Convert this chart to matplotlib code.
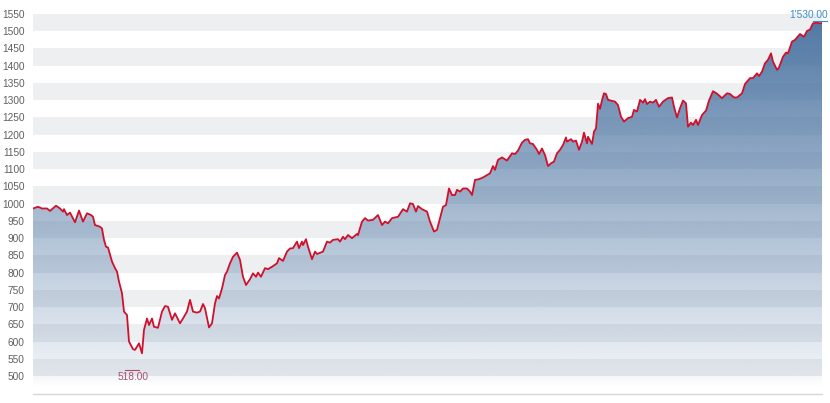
import numpy as np
import matplotlib
matplotlib.use("Agg")
import matplotlib.pyplot as plt
from matplotlib.colors import to_rgb

# ---- data ----
t = [0, 5, 9, 14, 17, 23, 27, 30, 31, 34, 37, 42, 46, 50, 54, 58, 60, 62, 67, 69,
     71, 73, 75, 79, 82, 84, 86, 89, 91, 94, 96, 100, 102, 104, 106, 109, 111, 114, 116, 119,
     121, 125, 129, 132, 135, 139, 142, 147, 150, 154, 157, 160, 164, 167, 170, 172, 176, 179, 182, 184,
     186, 189, 192, 194, 197, 200, 204, 207, 210, 213, 217, 220, 223, 225, 228, 232, 235, 239, 244, 246,
     250, 254, 257, 260, 264, 266, 269, 270, 273, 275, 279, 282, 284, 290, 294, 297, 300, 305, 307, 310,
     312, 315, 319, 324, 325, 329, 332, 335, 340, 345, 349, 352, 355, 359, 365, 370, 374, 377, 380, 383,
     385, 389, 394, 397, 401, 404, 407, 410, 413, 416, 419, 422, 424, 427, 430, 434, 437, 439, 442, 446,
     450, 457, 460, 462, 465, 469, 474, 479, 482, 485, 489, 492, 495, 497, 500, 504, 506, 509, 512, 515,
     518, 521, 524, 527, 530, 533, 534, 538, 540, 543, 546, 549, 551, 554, 555, 559, 561, 563, 565, 567,
     569, 571, 573, 575, 582, 585, 588, 591, 595, 599, 601, 604, 607, 610, 612, 614, 617, 620, 623, 626,
     630, 635, 639, 641, 644, 647, 650, 653, 655, 658, 660, 663, 665, 669, 673, 676, 680, 684, 689, 694,
     697, 701, 704, 709, 712, 717, 720, 724, 726, 729, 732, 735, 738, 740, 744, 746, 750, 753, 755, 759,
     762, 764, 767, 771, 774, 777, 780, 784, 787, 789]
values = [986, 991, 986, 986, 979, 994, 986, 977, 984, 967, 974, 946, 980, 948, 972, 967, 962, 938, 933, 928,
          895, 875, 873, 832, 813, 803, 774, 740, 687, 677, 600, 578, 576, 585, 595, 566, 634, 667, 648, 667,
          643, 640, 687, 703, 701, 663, 682, 653, 667, 687, 721, 687, 684, 687, 709, 697, 641, 653, 711, 732,
          725, 754, 793, 803, 827, 846, 858, 837, 788, 764, 781, 798, 788, 800, 788, 813, 810, 817, 827, 842,
          834, 861, 870, 871, 890, 871, 890, 880, 897, 875, 839, 861, 854, 861, 890, 887, 895, 897, 890, 904,
          897, 909, 900, 912, 909, 948, 958, 951, 953, 967, 938, 948, 943, 958, 962, 984, 977, 1001, 999, 977,
          993, 984, 977, 948, 919, 924, 958, 991, 996, 1044, 1025, 1025, 1040, 1035, 1044, 1044, 1035, 1025, 1069, 1071,
          1076, 1088, 1109, 1098, 1127, 1134, 1125, 1146, 1144, 1154, 1177, 1185, 1187, 1175, 1173, 1156, 1144, 1160, 1141, 1109,
          1117, 1122, 1146, 1156, 1170, 1192, 1180, 1187, 1180, 1183, 1156, 1180, 1206, 1175, 1194, 1173, 1209, 1218, 1290, 1275,
          1300, 1320, 1318, 1301, 1296, 1286, 1252, 1238, 1248, 1252, 1272, 1267, 1301, 1293, 1303, 1289, 1296, 1293, 1301, 1281,
          1296, 1306, 1308, 1281, 1250, 1277, 1299, 1291, 1223, 1235, 1228, 1243, 1228, 1257, 1270, 1299, 1326, 1319, 1306, 1320,
          1318, 1308, 1308, 1320, 1347, 1364, 1364, 1378, 1370, 1383, 1407, 1417, 1436, 1412, 1388, 1395, 1426, 1438, 1436, 1470,
          1475, 1482, 1492, 1484, 1501, 1505, 1523, 1525, 1523, 1524]

y_ticks = [500, 550, 600, 650, 700, 750, 800, 850, 900, 950, 1000, 1050, 1100,
           1150, 1200, 1250, 1300, 1350, 1400, 1450, 1500, 1550]
low_t, low_value, low_label = 99, 518.0, "518.00"
high_t, high_value, high_label = 787, 1530.0, "1'530.00"

# ---- styling ----
plt.rcParams['font.family'] = ['Liberation Sans', 'DejaVu Sans']
W, H = 830, 403
fig = plt.figure(figsize=(W / 100, H / 100), dpi=100)
ax = fig.add_axes([33 / W, (H - 394) / H, (822 - 33) / W, (394 - 14) / H])
ymin, ymax = 448, 1550
ax.set_xlim(min(t), max(t))
ax.set_ylim(ymin, ymax)

# alternating horizontal bands
for i in range(0, len(y_ticks) - 1, 2):
    ax.axhspan(y_ticks[i], y_ticks[i + 1], color='#eeeff1', lw=0, zorder=0)

# gradient area fill
poly = ax.fill_between(t, values, ymin, color='none', lw=0)
n = 400
yy = np.linspace(ymin, ymax, n)
base = np.array(to_rgb('#46709f'))
alpha = np.clip(0.12 + (yy - 550) * 0.00084, 0.0, 1.0)
alpha = np.where(yy < 500, np.clip(0.02 + (yy - 480) * 0.002, 0.0, 1.0), alpha)
img = np.zeros((n, 1, 4))
img[:, 0, :3] = base
img[:, 0, 3] = alpha
im = ax.imshow(img, extent=[min(t), max(t), ymin, ymax], origin='lower',
               aspect='auto', zorder=1, interpolation='bilinear')
im.set_clip_path(poly.get_paths()[0], transform=ax.transData)

# line
ax.plot(t, values, color='#d0102c', lw=1.3, zorder=3, solid_joinstyle='round')

# low / high markers
low_col = '#a8506e'
high_col = '#3b8cc6'
ax.plot([low_t - 7, low_t + 7], [low_value, low_value], color=low_col, lw=0.8,
        zorder=4, clip_on=False)
ax.annotate(low_label, (low_t, low_value), xytext=(1, -7), textcoords='offset pixels',
            ha='center', va='center', color=low_col, fontsize=7.3, zorder=5)
ax.plot([high_t - 7, high_t + 7], [high_value, high_value], color=high_col, lw=0.8,
        zorder=4, clip_on=False)
ax.annotate(high_label, (high_t, high_value), xytext=(-11, 6), textcoords='offset pixels',
            ha='center', va='center', color=high_col, fontsize=7.3, zorder=5,
            annotation_clip=False)

# axes
ax.set_yticks(y_ticks)
ax.set_yticklabels([str(v) for v in y_ticks])
ax.tick_params(axis='y', length=0, pad=6, labelsize=7.3, labelcolor='#606060')
ax.set_xticks([])
for s in ['top', 'right', 'left']:
    ax.spines[s].set_visible(False)
ax.spines['bottom'].set_color('#d6d6d6')
ax.spines['bottom'].set_linewidth(1.0)

fig.savefig('out.png', dpi=100)
